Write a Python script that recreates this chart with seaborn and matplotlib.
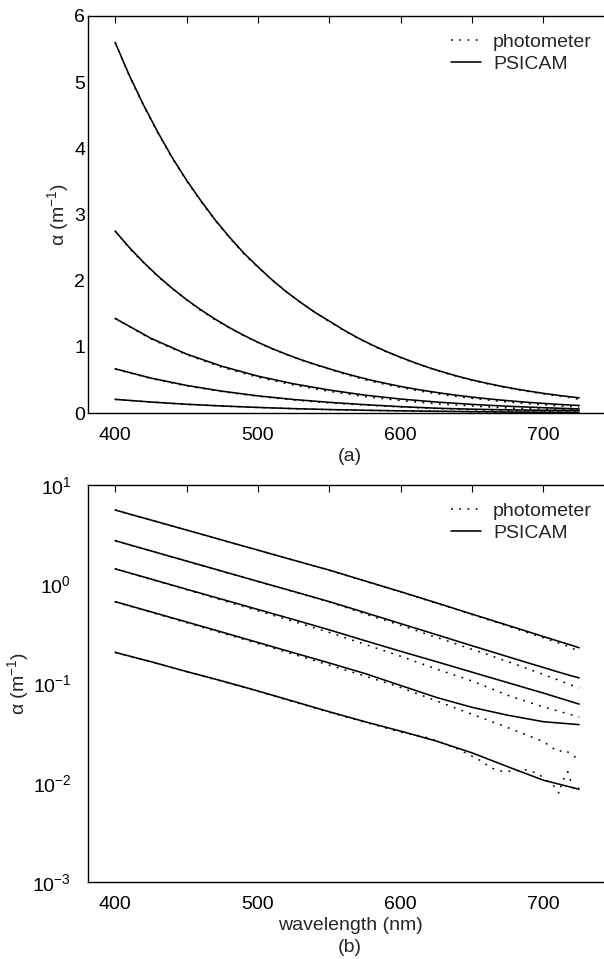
import matplotlib
matplotlib.use("Agg")
import matplotlib.pyplot as plt
import seaborn as sns
import numpy as np
from matplotlib.lines import Line2D
from matplotlib.ticker import FixedLocator, FuncFormatter, LogLocator, NullFormatter

# ---- data (absorption coefficient, m^-1) ----
# fine wavelength grid for the two strongest samples
wavelength_fine = [400, 410, 420, 430, 440, 450, 460, 470, 480, 490, 500, 510, 520, 530, 540, 550,
                   560, 570, 580, 590, 600, 610, 620, 630, 640, 650, 660, 670, 680, 690, 700, 710,
                   720, 725]
psicam_1 = [5.60, 5.10, 4.65, 4.24, 3.86, 3.52, 3.21, 2.92, 2.66, 2.42, 2.21, 2.01, 1.83, 1.67,
            1.52, 1.39, 1.256, 1.135, 1.028, 0.929, 0.841, 0.759, 0.684, 0.617, 0.555, 0.500,
            0.451, 0.406, 0.366, 0.330, 0.297, 0.268, 0.242, 0.229]
photo_1 = [5.60, 5.09, 4.64, 4.23, 3.85, 3.51, 3.20, 2.91, 2.65, 2.41, 2.20, 2.01, 1.83, 1.67,
           1.52, 1.38, 1.25, 1.13, 1.02, 0.924, 0.836, 0.754, 0.679, 0.612, 0.550, 0.495,
           0.445, 0.400, 0.359, 0.322, 0.288, 0.258, 0.229, 0.205]
psicam_2 = [2.75, 2.50, 2.275, 2.07, 1.884, 1.714, 1.56, 1.419, 1.291, 1.175, 1.069, 0.973, 0.887,
            0.807, 0.735, 0.668, 0.604, 0.546, 0.492, 0.445, 0.401, 0.362, 0.327, 0.295, 0.266,
            0.240, 0.217, 0.196, 0.177, 0.160, 0.145, 0.131, 0.119, 0.114]
photo_2 = [2.75, 2.49, 2.27, 2.06, 1.88, 1.71, 1.55, 1.41, 1.285, 1.17, 1.065, 0.968, 0.882,
           0.802, 0.730, 0.663, 0.593, 0.531, 0.475, 0.429, 0.385, 0.345, 0.308, 0.277, 0.247,
           0.221, 0.198, 0.176, 0.157, 0.139, 0.123, 0.109, 0.0957, 0.090]

# coarse grid for the weaker samples
wavelength = [400, 425, 450, 475, 500, 525, 550, 575, 600, 625, 650, 675, 700, 725]
psicam_3 = [1.43, 1.13, 0.891, 0.705, 0.557, 0.441, 0.347, 0.270, 0.211, 0.166, 0.130, 0.102, 0.080, 0.062]
psicam_4 = [0.668, 0.528, 0.417, 0.329, 0.259, 0.204, 0.161, 0.126, 0.0955, 0.0724, 0.0575, 0.0479, 0.0412, 0.0385]
psicam_5 = [0.206, 0.166, 0.132, 0.106, 0.0841, 0.0661, 0.0519, 0.0412, 0.0331, 0.0263, 0.0200, 0.0145, 0.0106, 0.0086]
photo_3 = [1.43, 1.12, 0.881, 0.689, 0.540, 0.422, 0.327, 0.248, 0.188, 0.140, 0.106, 0.076, 0.058, 0.046]

wavelength_photo_4 = [400, 425, 450, 475, 500, 525, 550, 575, 600, 625, 650, 675, 700, 710, 715, 725]
photo_4 = [0.664, 0.522, 0.410, 0.322, 0.253, 0.197, 0.153, 0.119, 0.0912, 0.0668, 0.0490, 0.0359,
           0.0260, 0.0206, 0.0214, 0.0170]

wavelength_photo_5 = [400, 425, 450, 475, 500, 525, 550, 575, 600, 620, 640, 655, 664, 672, 688,
                      696, 708, 711, 713, 717, 721, 725]
photo_5 = [0.206, 0.165, 0.132, 0.105, 0.0836, 0.0653, 0.0513, 0.0407, 0.0324, 0.0282, 0.0219,
           0.0170, 0.0140, 0.0129, 0.0135, 0.0124, 0.0091, 0.0078, 0.0102, 0.0129, 0.0085, 0.0089]

x_ticks = [400, 450, 500, 550, 600, 650, 700]
legend_labels = ["photometer", "PSICAM"]

# ---- style ----
sns.set_style("white")
plt.rcParams["font.family"] = ["Liberation Sans", "DejaVu Sans"]
plt.rcParams["mathtext.fontset"] = "custom"
plt.rcParams["mathtext.rm"] = "Liberation Sans"
plt.rcParams["mathtext.it"] = "Liberation Sans:italic"
plt.rcParams["mathtext.default"] = "regular"
plt.rcParams["axes.linewidth"] = 1.0

FS = 14
DOT = (0, (1.2, 4.2))

fig = plt.figure(figsize=(6.04, 9.59), dpi=100)
W, H = 604.0, 959.0
left, right = 88 / W, 612 / W
ax1 = fig.add_axes([left, 1 - 413 / H, right - left, (413 - 16) / H])
ax2 = fig.add_axes([left, 1 - 882 / H, right - left, (882 - 485) / H])

psicam = [(wavelength_fine, psicam_1), (wavelength_fine, psicam_2), (wavelength, psicam_3),
          (wavelength, psicam_4), (wavelength, psicam_5)]
photos = [(wavelength_fine, photo_1), (wavelength_fine, photo_2), (wavelength, photo_3),
          (wavelength_photo_4, photo_4), (wavelength_photo_5, photo_5)]

ax2.set_yscale("log")
for ax in (ax1, ax2):
    for wl, vals in photos:
        sns.lineplot(x=wl, y=vals, ax=ax, color="black", linewidth=1.1, linestyle=DOT,
                     estimator=None, sort=False, legend=False)
    for wl, vals in psicam:
        sns.lineplot(x=wl, y=vals, ax=ax, color="black", linewidth=1.15,
                     estimator=None, sort=False, legend=False)
    ax.set_xlim(381, 748)
    ax.xaxis.set_major_locator(FixedLocator(x_ticks))
    ax.xaxis.set_major_formatter(FuncFormatter(lambda v, p: f"{int(v)}" if v % 100 == 0 else ""))
    ax.tick_params(axis="both", which="major", direction="in", top=True, right=True,
                   length=5, width=0.8, labelsize=FS, colors="black")
    for s in ax.spines.values():
        s.set_color("black")
        s.set_linewidth(1.0)
    handles = [Line2D([], [], color="black", linewidth=1.1, linestyle=DOT),
               Line2D([], [], color="black", linewidth=1.15)]
    ax.legend(handles, legend_labels, loc="upper left", bbox_to_anchor=(0.693, 0.957),
              frameon=False, fontsize=FS, handlelength=1.55, handletextpad=0.6,
              labelspacing=0.22, borderpad=0, borderaxespad=0)

ax1.set_ylim(0, 6)
ax1.set_yticks([0, 1, 2, 3, 4, 5, 6])
ax1.tick_params(axis="y", pad=2)
ax1.tick_params(axis="x", pad=10)
ax1.set_ylabel("α (m$^{-1}$)", fontsize=FS, labelpad=2)
ax1.set_xlabel("(a)", fontsize=FS, labelpad=3)

ax2.set_ylim(1e-3, 10)
ax2.yaxis.set_major_locator(LogLocator(base=10, numticks=10))
ax2.yaxis.set_minor_locator(LogLocator(base=10, subs=np.arange(2, 10), numticks=10))
ax2.yaxis.set_minor_formatter(NullFormatter())
ax2.tick_params(axis="y", which="minor", direction="in", right=True, length=2.5, width=0.6)
ax2.tick_params(axis="y", pad=12)
ax2.tick_params(axis="x", pad=10)
ax2.set_ylabel("α (m$^{-1}$)", fontsize=FS, labelpad=1)
ax2.set_xlabel("wavelength (nm)\n(b)", fontsize=FS, labelpad=3, linespacing=1.35)

fig.savefig("out.png", dpi=100, facecolor="white")
